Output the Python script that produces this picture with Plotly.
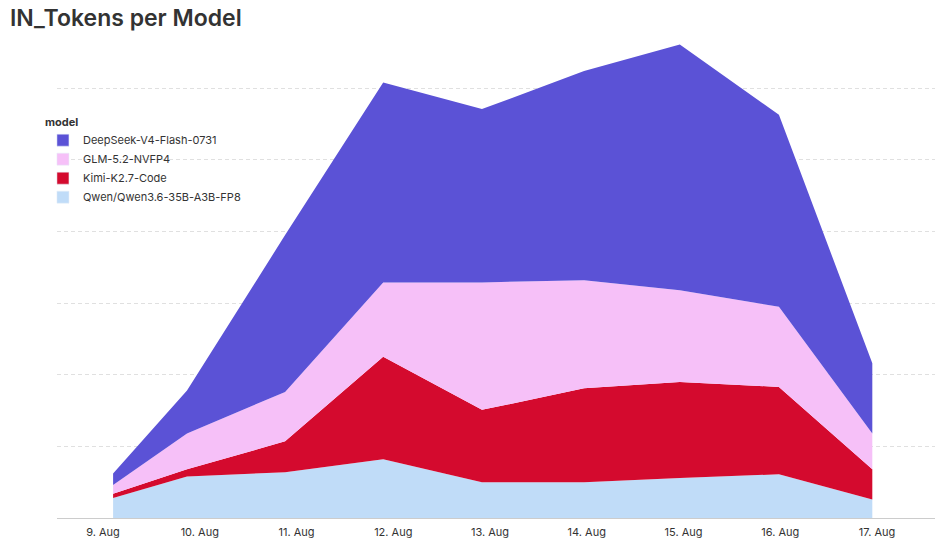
import plotly.graph_objects as go

# timestamps of the data points
times = ["2025-08-09 02:30", "2025-08-09 20:50", "2025-08-10 21:10", "2025-08-11 21:30",
         "2025-08-12 22:00", "2025-08-13 23:20", "2025-08-14 23:05", "2025-08-15 23:40",
         "2025-08-16 22:50"]

# tokens in millions (estimated)
qwen = [2.8, 5.8, 6.4, 8.2, 5.0, 5.0, 5.6, 6.1, 2.6]
kimi = [0.6, 1.0, 4.3, 14.3, 10.1, 13.1, 13.4, 12.2, 4.2]
glm = [1.2, 5.0, 6.9, 10.4, 17.8, 15.1, 12.8, 11.2, 5.0]
deepseek = [1.6, 6.0, 21.9, 27.9, 24.2, 29.2, 34.3, 26.8, 9.8]

series_names = ["DeepSeek-V4-Flash-0731", "GLM-5.2-NVFP4", "Kimi-K2.7-Code", "Qwen/Qwen3.6-35B-A3B-FP8"]
series_values = [deepseek, glm, kimi, qwen]
colors = ["#5b52d6", "#f6c0f8", "#d40a2e", "#c0dcf8"]

tick_vals = ["2025-08-%02d" % d for d in range(9, 18)]
tick_text = ["%d. Aug" % d for d in range(9, 18)]

fig = go.Figure()

# stacked areas (bottom first)
for name, vals, col in reversed(list(zip(series_names, series_values, colors))):
    fig.add_trace(go.Scatter(
        x=times, y=vals, name=name, mode="lines", stackgroup="one",
        line=dict(width=0, color=col), fillcolor=col, showlegend=False,
    ))

# legend entries with square swatches
for name, col in zip(series_names, colors):
    fig.add_trace(go.Bar(x=[None], y=[None], name=name, marker=dict(color=col),
                         showlegend=True, hoverinfo="skip"))

W, H = 947, 551

fig.update_layout(
    width=W, height=H,
    margin=dict(l=57, r=12, t=31, b=26),
    paper_bgcolor="white", plot_bgcolor="white",
    font=dict(family="Inter, Lato, sans-serif", size=11, color="#333333"),
    title=dict(text="IN_Tokens per Model", x=10 / W, xanchor="left",
               xref="container", yref="container", y=1 - 18 / H, yanchor="middle",
               font=dict(family="Inter, Lato, sans-serif", size=23, color="#333333", weight=600)),
    legend=dict(
        title=dict(text="<b>model</b>", font=dict(size=11, color="#333333")),
        x=-0.016, xanchor="left", y=0.835, yanchor="top",
        bgcolor="rgba(0,0,0,0)", font=dict(size=11, color="#333333"),
        tracegroupgap=0, traceorder="normal",
    ),
    showlegend=True,
)

fig.update_xaxes(
    type="date",
    range=["2025-08-08 12:35", "2025-08-17 14:23"],
    tickvals=tick_vals, ticktext=tick_text,
    showgrid=False, showline=True, linecolor="#cccccc", linewidth=1,
    ticks="", tickfont=dict(size=11, color="#333333"), zeroline=False,
    ticklabelstandoff=4,
)
fig.update_yaxes(
    range=[0, 68], dtick=10, tick0=0,
    showgrid=True, gridcolor="#e0e0e0", griddash="4px,3px", gridwidth=1,
    showticklabels=False, zeroline=False, showline=False, ticks="",
)

fig.write_html("out.html", config={"displayModeBar": False},
               post_script="document.body.style.margin='0px';")
